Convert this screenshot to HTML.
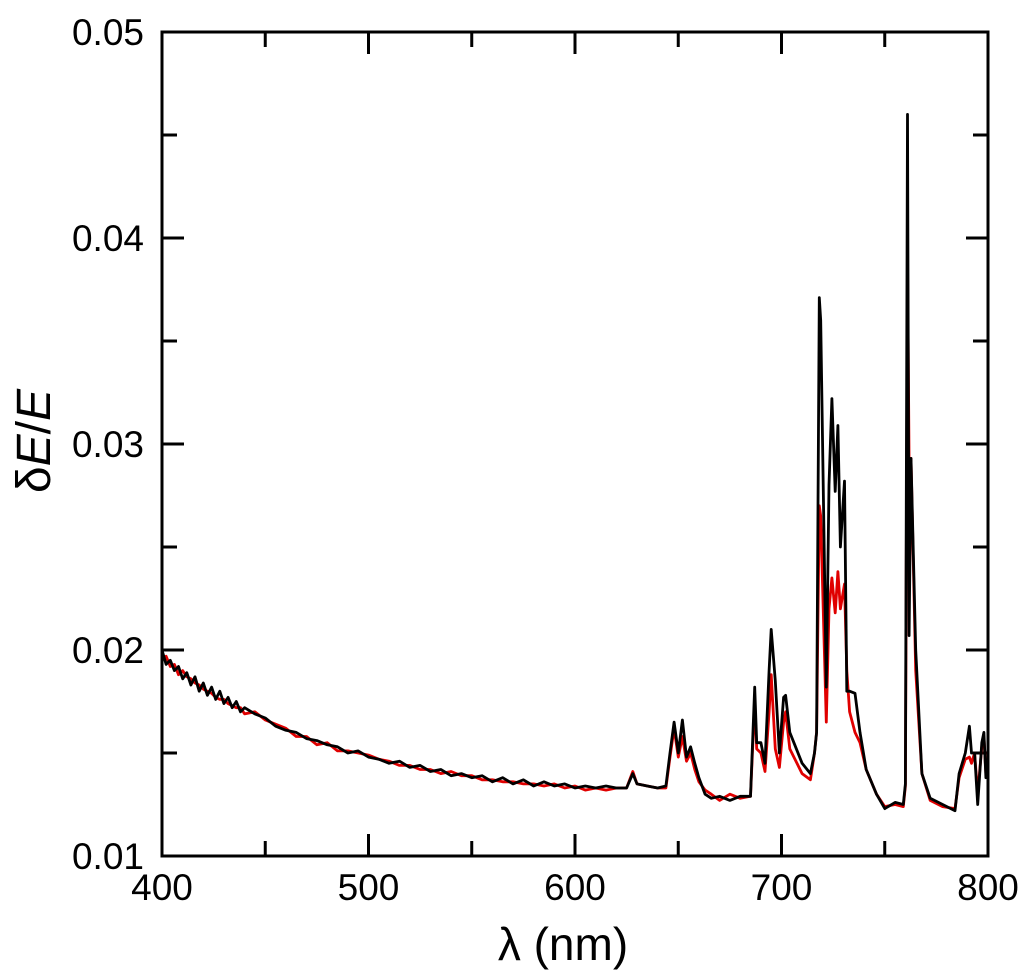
<!DOCTYPE html>
<html><head><meta charset="utf-8"><style>
html,body{margin:0;padding:0;background:#fff;}
svg{display:block;font-family:"Liberation Sans",sans-serif;}
</style></head><body>
<svg id="chart" width="1024" height="980" viewBox="0 0 1024 980" xmlns="http://www.w3.org/2000/svg">
<g id="ticks"></g>
<g id="series"></g>
<rect x="162" y="32" width="826" height="824" fill="none" stroke="#000" stroke-width="3"/>
<g id="labels" font-size="37" fill="#000"></g>
<text x="563" y="960" font-size="46" text-anchor="middle">λ (nm)</text>
<text transform="translate(50,441) rotate(-90)" font-size="48" text-anchor="middle">δ<tspan font-style="italic">E</tspan>/<tspan font-style="italic">E</tspan></text>
</svg>
<script>
const wavelengths=[400,402,404,406,408,410,412,414,416,418,420,422,424,426,428,430,432,434,436,438,440,445,450,455,460,465,470,475,480,485,490,495,500,505,510,515,520,525,530,535,540,545,550,555,560,565,570,575,580,585,590,595,600,605,610,615,620,625,628,630,635,640,644,646,648,650,652,654,656,658,660,663,666,670,675,680,685,687,688,690,692,694,695,697,699,701,702,704,706,710,714,716,717,718.3,719,721.7,723,724.4,726,727.3,728.5,730.5,731.6,733,735.6,738,741,746,750,755,759,760,761,761.8,762.7,765,768,772,778,784,786,789,791,792,793.5,795,797,798,799,800];
const blackSeries=[.0200,.0193,.0195,.0190,.0192,.0186,.0189,.0183,.0187,.0180,.0184,.0178,.0182,.0176,.0180,.0174,.0177,.0172,.0175,.0170,.0172,.0169,.0167,.0163,.0161,.0160,.0157,.0156,.0154,.0153,.0150,.0151,.0148,.0147,.0145,.0146,.0143,.0144,.0141,.0142,.0139,.0140,.0138,.0139,.0136,.0138,.0135,.0137,.0134,.0136,.0134,.0135,.0133,.0134,.0133,.0134,.0133,.0133,.0140,.0135,.0134,.0133,.0134,.0150,.0165,.0150,.0166,.0148,.0153,.0145,.0138,.0130,.0128,.0129,.0127,.0129,.0129,.0182,.0155,.0155,.0145,.0190,.0210,.0185,.0150,.0177,.0178,.0160,.0155,.0145,.0140,.0150,.0160,.0371,.0360,.0182,.0280,.0322,.0277,.0309,.0250,.0282,.0180,.0180,.0179,.0160,.0142,.0130,.0123,.0126,.0125,.0135,.0460,.0207,.0293,.0200,.0140,.0128,.0125,.0122,.0140,.0150,.0163,.0150,.0150,.0125,.0155,.0160,.0138,.0140];
const redSeries=[.0196,.0197,.0192,.0193,.0188,.0190,.0187,.0186,.0184,.0183,.0181,.0180,.0179,.0177,.0176,.0176,.0174,.0173,.0172,.0172,.0169,.0170,.0166,.0164,.0162,.0158,.0158,.0154,.0155,.0151,.0151,.0150,.0149,.0147,.0146,.0144,.0144,.0142,.0142,.0140,.0141,.0139,.0139,.0137,.0137,.0136,.0136,.0135,.0135,.0134,.0135,.0133,.0134,.0132,.0133,.0132,.0133,.0133,.0141,.0135,.0134,.0133,.0133,.0148,.0162,.0148,.0158,.0146,.0150,.0142,.0136,.0132,.0130,.0127,.0130,.0128,.0129,.0175,.0152,.0150,.0141,.0170,.0188,.0152,.0143,.0165,.0170,.0152,.0148,.0140,.0137,.0150,.0160,.0270,.0265,.0165,.0220,.0235,.0218,.0238,.0220,.0232,.0190,.0170,.0160,.0155,.0142,.0130,.0124,.0125,.0124,.0134,.0390,.0290,.0293,.0190,.0140,.0127,.0124,.0123,.0138,.0147,.0148,.0145,.0150,.0130,.0153,.0158,.0140,.0142];
const xTicks=[400,500,600,700,800];
const xMinor=[450,550,650,750];
const yTicks=[0.01,0.02,0.03,0.04,0.05];
const yMinor=[0.015,0.025,0.035,0.045];
const yTickLabels=["0.01","0.02","0.03","0.04","0.05"];

const X0=162,X1=988,Y0=856,Y1=32;
function xs(v){return X0+(v-400)/400*(X1-X0);}
function ys(v){return Y0-(v-0.01)/0.04*(Y0-Y1);}
const NS="http://www.w3.org/2000/svg";
const tg=document.getElementById('ticks'),lg=document.getElementById('labels'),sg=document.getElementById('series');
function line(x1,y1,x2,y2,name){const l=document.createElementNS(NS,'line');l.setAttribute('x1',x1);l.setAttribute('y1',y1);l.setAttribute('x2',x2);l.setAttribute('y2',y2);l.setAttribute('stroke','#000');l.setAttribute('stroke-width','3');


tg.appendChild(l);}
xTicks.forEach((v,i)=>{const x=xs(v);line(x,Y0,x,Y0-22,'x-major-tick');line(x,Y1,x,Y1+22,'x-major-tick-top');
const t=document.createElementNS(NS,'text');t.setAttribute('x',x);t.setAttribute('y',900);t.setAttribute('text-anchor','middle');t.textContent=String(v);


lg.appendChild(t);});
xMinor.forEach(v=>{const x=xs(v);line(x,Y0,x,Y0-15,'x-minor-tick');line(x,Y1,x,Y1+15,'x-minor-tick-top');});
yTicks.forEach((v,i)=>{const y=ys(v);line(X0,y,X0+22,y,'y-major-tick');line(X1,y,X1-22,y,'y-major-tick-right');
const t=document.createElementNS(NS,'text');t.setAttribute('x',144);t.setAttribute('y',y+13);t.setAttribute('text-anchor','end');t.textContent=yTickLabels[i];


lg.appendChild(t);});
yMinor.forEach(v=>{const y=ys(v);line(X0,y,X0+15,y,'y-minor-tick');line(X1,y,X1-15,y,'y-minor-tick-right');});
function path(vals,color,name){const p=document.createElementNS(NS,'path');
p.setAttribute('d',vals.map((v,i)=>(i?'L':'M')+xs(wavelengths[i]).toFixed(1)+','+ys(v).toFixed(1)).join(''));
p.setAttribute('fill','none');p.setAttribute('stroke',color);p.setAttribute('stroke-width','2.8');p.setAttribute('stroke-linejoin','round');


sg.appendChild(p);}
path(redSeries,'#e00000','red-series-line');
path(blackSeries,'#000','black-series-line');
</script>
</body></html>
